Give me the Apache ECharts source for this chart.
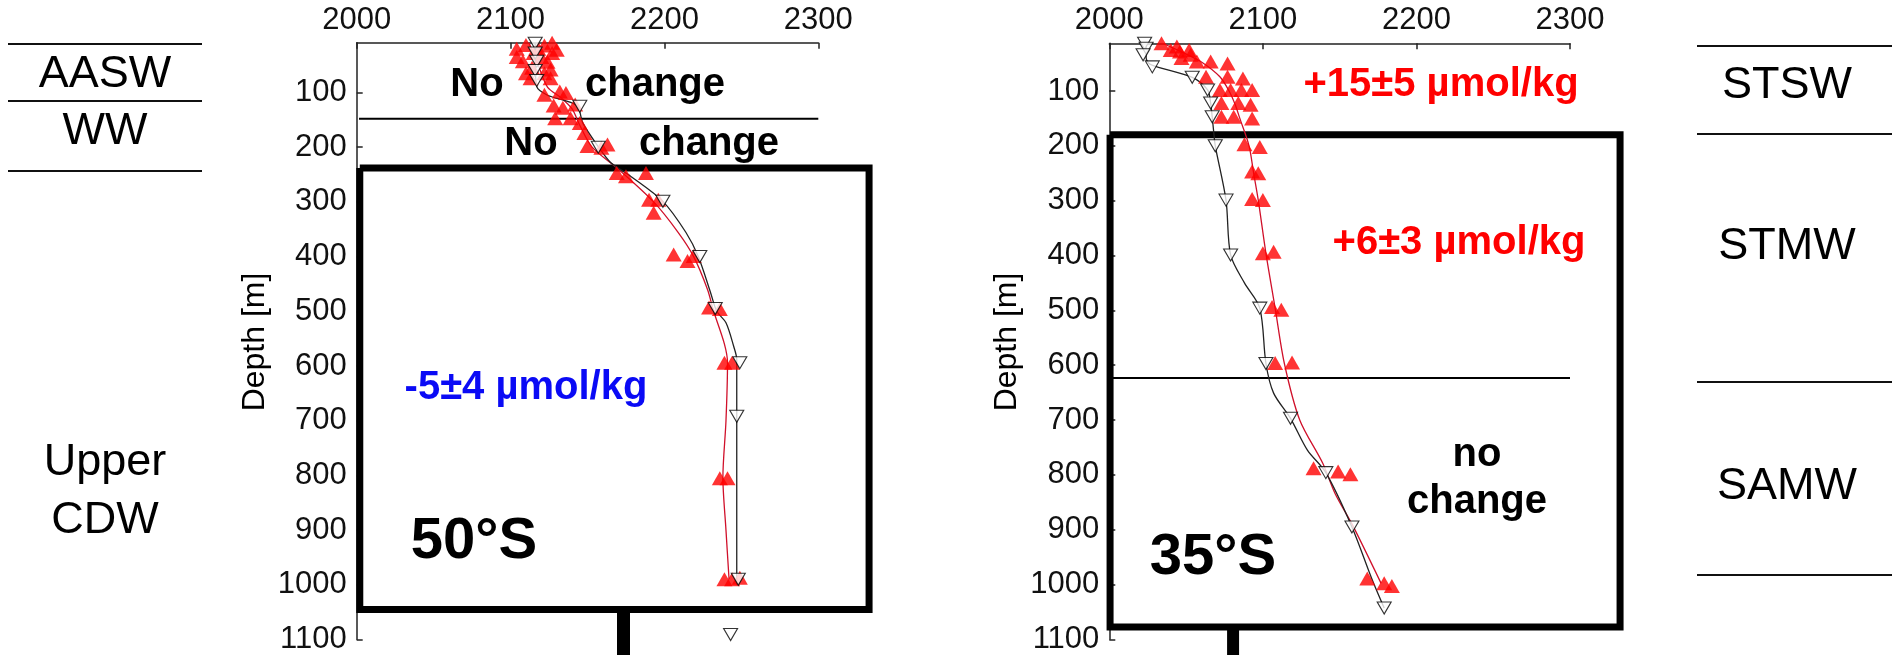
<!DOCTYPE html>
<html>
<head>
<meta charset="utf-8">
<script src="https://cdn.jsdelivr.net/npm/echarts@6/dist/echarts.min.js"></script>
<style>
html,body{margin:0;padding:0;background:#fff;}
#chart{width:1892px;height:655px;}
</style>
</head>
<body>
<div id="chart"></div>
<script>
// ---------------- DATA ----------------
const xTicks = [2000, 2100, 2200, 2300];
const depthTicks = [100, 200, 300, 400, 500, 600, 700, 800, 900, 1000, 1100];

// 50°S panel: [value (µmol/kg), depth (m)]
const old50Line = [[2116,9],[2116,40],[2117,89],[2124,105],[2143,124],[2147,156],[2157,199],[2165,228],[2178,253],[2199,299],[2214,356],[2222,400],[2230,466],[2234,500],[2240,521],[2245,564],[2247,588],[2247,700],[2247,1000]];
const old50Pts = [[2116,10],[2116,28],[2117,43],[2116,60],[2117,78],[2145,125],[2157,200],[2199,299],[2223,400],[2233,495],[2249,594],[2247,692],[2248,990],[2243,1091]];
const new50Line = [[2112,9],[2118,50],[2124,90],[2133,110],[2140,130],[2145,160],[2153,200],[2170,240],[2193,300],[2209,356],[2219,400],[2228,460],[2232,500],[2239,560],[2241,594],[2240,700],[2238,804],[2240,900],[2242,990]];
const new50Pts = [[2127,9],[2110,13],[2122,14],[2104,20],[2118,20],[2130,22],[2115,28],[2127,28],[2104,35],[2120,35],[2108,43],[2124,44],[2114,55],[2126,58],[2110,65],[2122,65],[2113,74],[2126,74],
  [2132,98],[2136,101],[2122,104],[2128,124],[2134,128],[2142,122],[2129,147],[2139,147],[2145,156],[2148,174],[2150,198],[2159,201],[2163,195],
  [2169,247],[2175,253],[2188,247],[2190,296],[2196,296],[2193,320],[2206,396],[2215,408],[2219,399],[2229,493],[2236,496],
  [2239,594],[2244,594],[2236,805],[2241,805],[2239,990],[2244,990],[2249,987]];

// 35°S panel
const old35Line = [[2024,13],[2024,40],[2027,52],[2054,75],[2064,98],[2066,122],[2067,147],[2068,175],[2069,200],[2076,299],[2079,399],[2088,450],[2098,496],[2102,597],[2107,651],[2118,697],[2129,755],[2141,796],[2158,895],[2171,990],[2179,1043]];
const old35Pts = [[2023,13],[2024,22],[2022,34],[2028,56],[2054,75],[2064,98],[2066,122],[2067,147],[2069,200],[2076,299],[2079,399],[2098,496],[2102,597],[2118,697],[2141,796],[2158,895],[2179,1043]];
const new35Line = [[2034,12],[2048,30],[2060,47],[2072,74],[2078,100],[2082,125],[2085,150],[2091,200],[2094,250],[2097,299],[2102,396],[2108,496],[2114,597],[2124,700],[2139,779],[2147,834],[2159,895],[2177,998]];
const new35Pts = [[2034,13],[2040,25],[2044,19],[2046,28],[2052,25],[2053,34],[2047,40],[2057,46],[2066,46],[2077,50],
  [2063,74],[2077,74],[2087,77],[2072,98],[2079,98],[2086,98],[2093,98],[2073,122],[2084,122],[2092,125],[2073,147],[2081,147],[2093,150],
  [2088,197],[2098,202],[2093,247],[2097,250],[2093,297],[2100,299],[2100,396],[2107,393],[2106,494],[2112,499],
  [2108,596],[2119,595],[2133,788],[2149,794],[2157,799],[2168,989],[2179,998],[2184,1003]];

// annotation shapes (data coordinates)
const box50 = [[2002,238],[2333,238],[2333,1045],[2002,1045],[2002,238]];
const stem50 = [[2173.4,1045],[2173.4,1160]];
const sep50 = [[2001.5,147.8],[2300,147.8]];
const box35 = [[2000.5,180],[2332.6,180],[2332.6,1077.6],[2000.5,1077.6],[2000.5,180]];
const stem35 = [[2080.6,1077.6],[2080.6,1160]];
const sep35 = [[2000.5,623.4],[2300,623.4]];

// texts
const leftMasses = ['AASW', 'WW', 'Upper', 'CDW'];
const rightMasses = ['STSW', 'STMW', 'SAMW'];
const notes50 = ['No', 'change', 'No', 'change', '-5±4 µmol/kg', '50°S'];
const notes35 = ['+15±5 µmol/kg', '+6±3 µmol/kg', 'no', 'change', '35°S'];
const depthName = 'Depth [m]';

// ---------------- CHART ----------------
const FF = '"Liberation Sans", Arial, Helvetica, sans-serif';
const chart = echarts.init(document.getElementById('chart'), null, {renderer: 'canvas'});
const plain = v => String(v);

function xAx(gi) {
  return {
    gridIndex: gi, type: 'value', position: 'top', min: xTicks[0], max: xTicks[xTicks.length - 1], interval: 100,
    axisLine: {show: true, onZero: false, lineStyle: {color: '#222', width: 1.5}},
    axisTick: {show: true, inside: true, length: 6, lineStyle: {color: '#222', width: 1.5}},
    axisLabel: {fontSize: 31, fontFamily: FF, color: '#111', margin: 7, formatter: plain},
    splitLine: {show: false}
  };
}
function yAx(gi, mn) {
  return {
    gridIndex: gi, type: 'value', inverse: true, min: mn, max: 1100,
    axisLine: {show: true, onZero: false, lineStyle: {color: '#222', width: 1.5}},
    axisTick: {show: true, inside: true, length: 6, customValues: depthTicks, lineStyle: {color: '#222', width: 1.5}},
    axisLabel: {fontSize: 31, fontFamily: FF, color: '#111', margin: 10, customValues: depthTicks, formatter: plain},
    splitLine: {show: false}
  };
}
// frames / stems / separators drawn through the axes' scales (not clipped)
function shapes(gi, polylines, widths) {
  return {
    type: 'custom', xAxisIndex: gi, yAxisIndex: gi, clip: false, silent: true, z: 1,
    data: polylines.map((pl, i) => [pl[0][0], pl[0][1], i]),
    encode: {x: 0, y: 1},
    renderItem: function (params, api) {
      const pl = polylines[params.dataIndex];
      return {
        type: 'polyline',
        shape: {points: pl.map(p => api.coord(p))},
        style: {stroke: '#000', fill: null, lineWidth: widths[params.dataIndex], lineJoin: 'miter', lineCap: 'butt'}
      };
    }
  };
}
function profile(gi, data, color) {
  return {type: 'line', xAxisIndex: gi, yAxisIndex: gi, data: data, smooth: 0.3, symbol: 'none',
    z: 3, lineStyle: {color: color, width: 1.3}};
}
function redPts(gi, data) {
  return {type: 'scatter', xAxisIndex: gi, yAxisIndex: gi, data: data, symbol: 'triangle',
    symbolSize: [16, 14], z: 4, itemStyle: {color: '#ff0000'}};
}
function blackPts(gi, data) {
  return {type: 'scatter', xAxisIndex: gi, yAxisIndex: gi, data: data, symbol: 'triangle', symbolRotate: 180,
    symbolSize: [14, 12], z: 5, itemStyle: {color: '#fff', borderColor: '#000', borderWidth: 1.1}};
}

function txt(s, x, base, size, opt) {
  opt = opt || {};
  return {type: 'text', z: 100, rotation: opt.rot || 0, x: x, y: base - (opt.rot ? 0 : 0.35 * size),
    style: {text: s, fill: opt.color || '#000', font: (opt.bold ? 'bold ' : '') + size + 'px ' + FF,
      textAlign: 'center', textVerticalAlign: 'middle'}};
}
function hline(x1, x2, y) {
  return {type: 'line', shape: {x1: x1, y1: y, x2: x2, y2: y}, style: {stroke: '#111', lineWidth: 2}};
}

const graphics = [
  hline(8, 202, 44), hline(8, 202, 101), hline(8, 202, 171),
  hline(1697, 1892, 46), hline(1697, 1892, 134), hline(1697, 1892, 382), hline(1697, 1892, 575),
  txt(leftMasses[0], 105, 90, 45), txt(leftMasses[1], 105, 147, 45),
  txt(leftMasses[2], 105, 478, 45), txt(leftMasses[3], 105, 536, 45),
  txt(rightMasses[0], 1787, 101, 45), txt(rightMasses[1], 1787, 262, 45), txt(rightMasses[2], 1787, 502, 45),
  // 50°S notes
  txt(notes50[0], 477, 99, 40, {bold: true}), txt(notes50[1], 655, 99, 40, {bold: true}),
  txt(notes50[2], 531, 158, 40, {bold: true}), txt(notes50[3], 709, 158, 40, {bold: true}),
  txt(notes50[4], 526, 402, 40, {bold: true, color: '#0a0af5'}),
  txt(notes50[5], 474, 562, 58, {bold: true}),
  // 35°S notes
  txt(notes35[0], 1441, 99, 40, {bold: true, color: '#ff0000'}),
  txt(notes35[1], 1459, 257, 40, {bold: true, color: '#ff0000'}),
  txt(notes35[2], 1477, 469, 40, {bold: true}), txt(notes35[3], 1477, 516, 40, {bold: true}),
  txt(notes35[4], 1213, 578, 58, {bold: true}),
  // axis names
  txt(depthName, 255, 342, 32, {rot: Math.PI / 2}),
  txt(depthName, 1007, 342, 32, {rot: Math.PI / 2})
];

const option = {
  animation: false,
  backgroundColor: '#fff',
  grid: [
    {left: 356.7, top: 42.7, width: 461.6, height: 597.3},
    {left: 1109.3, top: 43.3, width: 460.7, height: 596}
  ],
  xAxis: [xAx(0), xAx(1)],
  yAxis: [yAx(0, 9), yAx(1, 13)],
  series: [
    shapes(0, [box50, stem50, sep50], [7, 13, 2]),
    profile(0, new50Line, '#d0102a'), profile(0, old50Line, '#222'),
    redPts(0, new50Pts), blackPts(0, old50Pts),
    shapes(1, [box35, stem35, sep35], [7, 12, 2]),
    profile(1, new35Line, '#d0102a'), profile(1, old35Line, '#222'),
    redPts(1, new35Pts), blackPts(1, old35Pts)
  ],
  graphic: graphics
};
chart.setOption(option);
</script>
</body>
</html>
